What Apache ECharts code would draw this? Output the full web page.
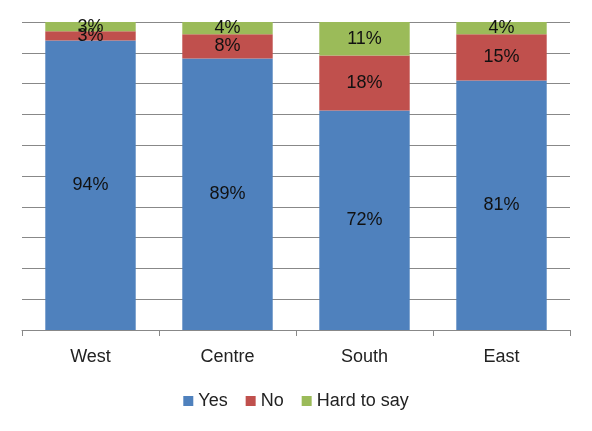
<!DOCTYPE html>
<html>
<head>
<meta charset="utf-8">
<script src="https://cdn.jsdelivr.net/npm/echarts@6/dist/echarts.min.js"></script>
<style>
  html, body { margin: 0; padding: 0; background: #fff; }
  #chart { width: 592px; height: 431px; }
</style>
</head>
<body>
<div id="chart"></div>
<script>
// regions and answers (raw percentages as printed on the bars)
const regions = ['West', 'Centre', 'South', 'East'];
const yesValues = [94, 89, 72, 81];
const noValues = [3, 8, 18, 15];
const hardValues = [3, 4, 11, 4];

const seriesNames = ['Yes', 'No', 'Hard to say'];
const seriesColors = ['#4F81BD', '#C0504D', '#9BBB59'];
const rawSeries = [yesValues, noValues, hardValues];

// 100% stacked: each column scaled by its own total
const totals = regions.map((_, i) => rawSeries.reduce((s, arr) => s + arr[i], 0));

const font = 'Liberation Sans, Arial, sans-serif';

const chart = echarts.init(document.getElementById('chart'));
chart.setOption({
  animation: false,
  textStyle: { fontFamily: font },
  grid: { left: 22, right: 22, top: 22, bottom: 101 },
  legend: {
    bottom: 16,
    left: 'center',
    itemWidth: 10,
    itemHeight: 10,
    itemGap: 18,
    icon: 'rect',
    textStyle: { fontSize: 18, color: '#222', fontFamily: font },
    data: seriesNames,
  },
  xAxis: {
    type: 'category',
    data: regions,
    axisLine: { lineStyle: { color: '#888' } },
    axisTick: { show: true, length: 6, lineStyle: { color: '#888' } },
    axisLabel: { fontSize: 18, color: '#222', margin: 18 },
  },
  yAxis: {
    type: 'value',
    min: 0,
    max: 100,
    interval: 10,
    axisLine: { show: false },
    axisTick: { show: false },
    axisLabel: { show: false },
    splitLine: { lineStyle: { color: '#888' } },
  },
  series: rawSeries.map((arr, k) => ({
    name: seriesNames[k],
    type: 'bar',
    stack: 'all',
    barCategoryGap: '34%',
    itemStyle: { color: seriesColors[k] },
    label: {
      show: true,
      position: 'inside',
      fontSize: 18,
      color: '#111',
      fontFamily: font,
      formatter: p => arr[p.dataIndex] + '%',
    },
    data: arr.map((v, i) => v / totals[i] * 100),
  })),
});
</script>
</body>
</html>
